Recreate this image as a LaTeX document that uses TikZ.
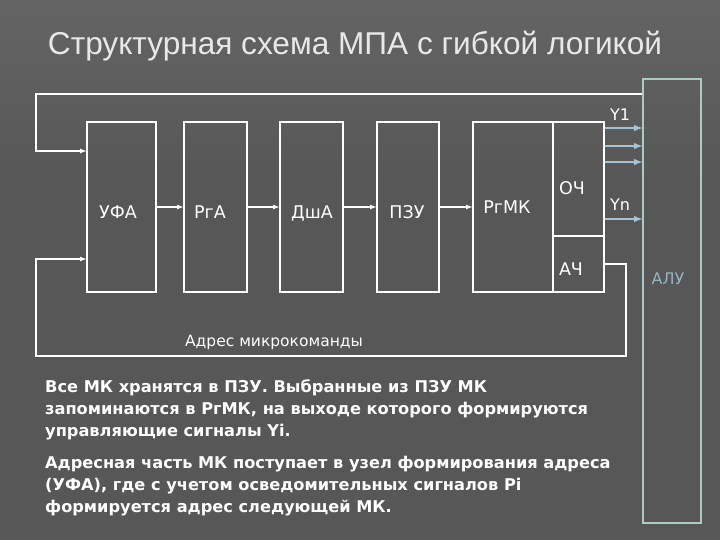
\documentclass[tikz,border=0pt]{standalone}
\usepackage{fontspec}
\setmainfont{DejaVu Sans}
\newfontfamily\titlefont{Liberation Sans}
\usepackage{xcolor}
\usepackage{tikz}
\usetikzlibrary{positioning}
\usetikzlibrary{arrows,shapes}
\usetikzlibrary{calc}
\definecolor{bgcol}{RGB}{87,87,87}
\definecolor{bgtop}{RGB}{100,100,100}
\definecolor{alucol}{RGB}{170,205,195}
\definecolor{ycol}{RGB}{165,195,210}
\definecolor{alutext}{RGB}{150,180,195}
\definecolor{txtcol}{RGB}{232,232,232}
\tikzstyle{blk}=[rectangle,draw=white,line width=1.2pt,inner sep=0pt]
\tikzset{lbl/.style={text=white,inner sep=0pt,text height=13pt,text depth=0pt,font=\fontsize{17.5}{20}\selectfont}}
\tikzset{fb/.style={draw=white,line width=1.2pt,-latex}}

\begin{document}
\begin{tikzpicture}[x=1pt,y=-1pt]
    % background
    \fill[bgcol] (0,0) rectangle (720,540);
    \shade[top color=bgtop,bottom color=bgcol] (0,0) rectangle (720,180);
    \useasboundingbox (0,0) rectangle (720,540);

    \node[text=txtcol,font=\titlefont\fontsize{31.6}{36}\selectfont] (title) at (355,46) {Структурная схема МПА с гибкой логикой};

    % main chain of blocks
    \foreach \pos/\w/\name in {{(121.5,207)/69/ufa}, {(215.5,207)/63/rga},
                              {(311.5,207)/63/dsha}, {(408,207)/62/pzu},
                              {(513,207)/80/rgmk}}
        \node[blk,minimum width=\w pt,minimum height=170pt] (\name) at \pos {};

    \node[blk,minimum width=51pt,minimum height=114pt] (och) at (578.5,179) {};
    \node[blk,minimum width=51pt,minimum height=56pt] (ach) at (578.5,264) {};

    \foreach \name/\dx/\dy/\txt in {ufa/-3.5/5/УФА, rga/-5.5/5/РгА, dsha/0.5/5/ДшА,
                                    pzu/-1/5/ПЗУ, rgmk/-6/0/РгМК, och/-6.5/9/ОЧ, ach/-7.5/5/АЧ}
        \node[lbl] (\name t) at ($(\name)+(\dx,\dy)$) {\txt};

    \node[rectangle,draw=alucol,line width=1.2pt,minimum width=58pt,minimum height=444pt] (alu) at (672,301) {};
    \node[text=alutext,font=\fontsize{16}{18}\selectfont] (alulbl) at (668,279) {АЛУ};

    \draw[fb] (ufa) -- (rga);
    \draw[fb] (rga) -- (dsha);
    \draw[fb] (dsha) -- (pzu);
    \draw[fb] (pzu) -- (rgmk);

    % control signals Y
    \foreach \y/\name in {128/ya, 146/yb, 162/yc, 219/yd}
        \draw[draw=ycol,line width=1.8pt,-latex] (och.east |- 0,\y) -- (alu.west |- 0,\y);
    \node[text=white,font=\fontsize{16}{18}\selectfont] (yone) at (620,115) {Y1};
    \node[text=white,font=\fontsize{16}{18}\selectfont] (yn) at (620,205) {Yn};

    % feedback loops
    \coordinate (tr) at (alu.west |- 0,94);
    \coordinate (tl) at (36,94);
    \coordinate (tin) at (36,151);
    \draw[fb] (tr) -- (tl) -- (tin) -- (ufa.west |- tin);

    \coordinate (br) at (626,264);
    \coordinate (bd) at (626,356);
    \coordinate (bl) at (36,356);
    \coordinate (bin) at (36,259);
    \draw[fb] (ach.east) -- (br) -- (bd) -- (bl) -- (bin) -- (ufa.west |- bin);

    \node[text=white,font=\fontsize{15.5}{18}\selectfont] (addr) at (274,342) {Адрес микрокоманды};

    % description
    \node[anchor=north west,align=left,text=white,inner sep=0pt,
          font=\bfseries\fontsize{16.2}{22}\selectfont] (desc) at (45,379)
        {Все МК хранятся в ПЗУ. Выбранные из ПЗУ МК\\
         запоминаются в РгМК, на выходе которого формируются\\
         управляющие сигналы Yi.\\[10pt]
         Адресная часть МК поступает в узел формирования адреса\\
         (УФА), где с учетом осведомительных сигналов Pi\\
         формируется адрес следующей МК.};
\end{tikzpicture}
\end{document}
